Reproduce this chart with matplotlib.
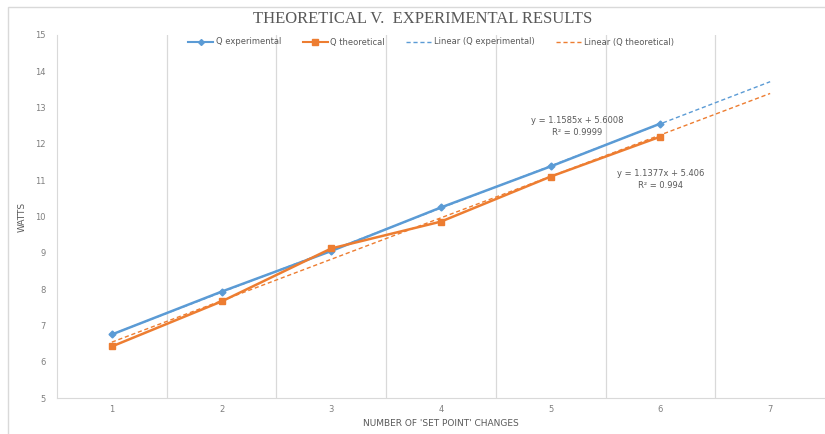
import numpy as np
import matplotlib.pyplot as plt
from matplotlib.patches import Rectangle
from matplotlib.lines import Line2D

# data
categories = ['1', '2', '3', '4', '5', '6', '7']
q_exp = [6.75, 7.93, 9.05, 10.25, 11.38, 12.56]
q_theo = [6.42, 7.66, 9.12, 9.86, 11.10, 12.20]
eq_exp = 'y = 1.1585x + 5.6008\nR² = 0.9999'
eq_theo = 'y = 1.1377x + 5.406\nR² = 0.994'

blue = '#5B9BD5'
orange = '#ED7D31'
grey = '#595959'

fig = plt.figure(figsize=(8.25, 4.34), dpi=100)
ax = fig.add_axes([57/825, 1-398/434, 768/825, (398-35)/434])

# outer chart frame
fig.patches.append(Rectangle((8/825, -0.05), 1.1, 1-7/434+0.05, transform=fig.transFigure,
                             fill=False, edgecolor='#d9d9d9', lw=1))

x = np.arange(1, len(q_exp)+1)
xall = np.arange(1, len(categories)+1)

# linear trendlines (least squares, forecast one step)
pe = np.polyfit(x, q_exp, 1)
pt = np.polyfit(x, q_theo, 1)
ax.plot(xall, np.polyval(pe, xall), '--', color=blue, lw=1, dashes=(3, 2), zorder=2)
ax.plot(xall, np.polyval(pt, xall), '--', color=orange, lw=1, dashes=(3, 2), zorder=2)

ax.plot(x, q_exp, color=blue, lw=1.8, marker='D', ms=3.5, zorder=3)
ax.plot(x, q_theo, color=orange, lw=1.8, marker='s', ms=5, zorder=3)

ax.set_xlim(0.5, 7.5)
ax.set_ylim(5, 15)
ax.set_xticks(xall)
ax.set_xticklabels(categories)
ax.set_yticks(range(5, 16))
for b in np.arange(1.5, 7.5, 1):
    ax.axvline(b, color='#d9d9d9', lw=0.9, zorder=0)
for s in ['top', 'right']:
    ax.spines[s].set_visible(False)
for s in ['left', 'bottom']:
    ax.spines[s].set_color('#d9d9d9')
ax.tick_params(length=0, labelsize=6, colors='#7f7f7f')
ax.tick_params(axis='y', pad=8)
ax.tick_params(axis='x', pad=5)

ax.set_xlabel("NUMBER OF 'SET POINT' CHANGES", fontsize=6.5, color=grey, labelpad=4)
ax.set_ylabel('WATTS', fontsize=6.5, color=grey, labelpad=6)

ax.text(5.24, 12.47, eq_exp, ha='center', va='center', fontsize=6, color=grey, linespacing=1.4)
ax.text(6.0, 11.03, eq_theo, ha='center', va='center', fontsize=6, color=grey, linespacing=1.4)

fig.text(423/825, 1-19/434, 'THEORETICAL V.  EXPERIMENTAL RESULTS', ha='center', va='center',
         family='Liberation Serif', fontsize=12, color=grey)

handles = [Line2D([], [], color=blue, lw=1.5, marker='D', ms=3),
           Line2D([], [], color=orange, lw=1.5, marker='s', ms=4.5),
           Line2D([], [], color=blue, lw=1, dashes=(3, 2)),
           Line2D([], [], color=orange, lw=1, dashes=(3, 2))]
labels = ['Q experimental', 'Q theoretical', 'Linear (Q experimental)', 'Linear (Q theoretical)']
leg = fig.legend(handles, labels, loc='center', bbox_to_anchor=(431/825, 1-42/434), ncol=4,
                 frameon=False, fontsize=6, handlelength=3, columnspacing=2.6, handletextpad=0.3)
for t in leg.get_texts():
    t.set_color(grey)

fig.savefig('out.png', dpi=100)
